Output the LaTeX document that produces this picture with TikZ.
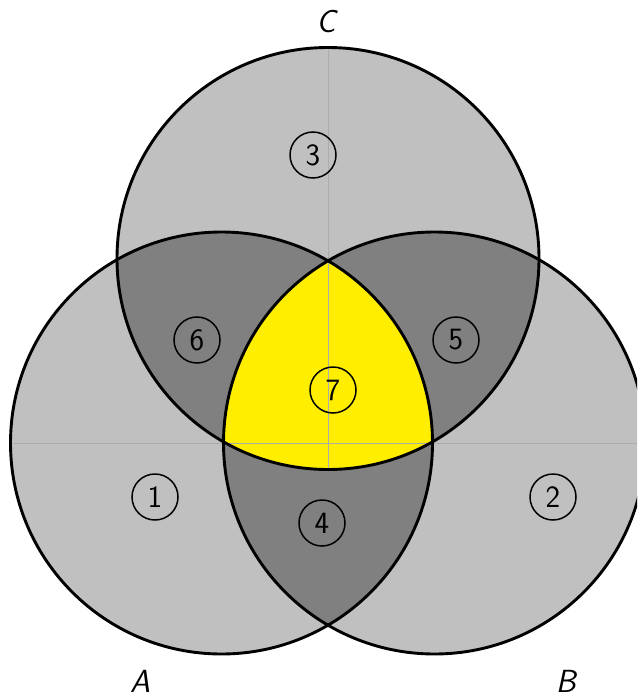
\documentclass[tikz,border=0pt]{standalone}
\definecolor{lightg}{RGB}{192,192,192}
\definecolor{darkg}{RGB}{128,128,128}
\definecolor{vyellow}{RGB}{255,238,0}
\definecolor{guideg}{RGB}{172,172,172}
\tikzset{
  setfill/.style={fill=lightg},
  outline/.style={draw=black,line width=2.9pt},
  guide/.style={draw=guideg,line width=0.8pt},
  num/.style={circle,draw=black,line width=1.5pt,minimum size=46pt,inner sep=0pt,
    font=\fontsize{31}{36}\selectfont\sffamily},
  lab/.style={font=\fontsize{32}{38}\selectfont\sffamily\itshape,inner sep=0pt}
}
\begin{document}
\begin{tikzpicture}[x=1pt,y=-1pt]
\clip (0,0) rectangle (637,698);
\coordinate (A) at (221.5,443);
\coordinate (B) at (434.5,443);
\coordinate (C) at (328,258.5);
\def\R{211pt}
% base fills
\fill[lightg] (A) circle[radius=\R];
\fill[lightg] (B) circle[radius=\R];
\fill[lightg] (C) circle[radius=\R];
% pairwise intersections
\begin{scope}
  \clip (A) circle[radius=\R];
  \fill[darkg] (B) circle[radius=\R];
  \fill[darkg] (C) circle[radius=\R];
\end{scope}
\begin{scope}
  \clip (B) circle[radius=\R];
  \fill[darkg] (C) circle[radius=\R];
\end{scope}
% triple intersection
\begin{scope}
  \clip (A) circle[radius=\R];
  \clip (B) circle[radius=\R];
  \fill[vyellow] (C) circle[radius=\R];
\end{scope}
% guide lines
\coordinate (hl) at (10.5,443);
\coordinate (hr) at (645.5,443);
\coordinate (vt) at (328,47.5);
\coordinate (vb) at (328,469.5);
\draw[guide] (hl) -- (hr);
\draw[guide] (vt) -- (vb);
% outlines
\draw[outline] (A) circle[radius=\R];
\draw[outline] (B) circle[radius=\R];
\draw[outline] (C) circle[radius=\R];
% region numbers
\node[num] (n1) at (155,497) {1};
\node[num] (n2) at (553,497) {2};
\node[num] (n3) at (313,155) {3};
\node[num] (n4) at (322,523) {4};
\node[num] (n5) at (456,340) {5};
\node[num] (n6) at (197,340) {6};
\node[num] (n7) at (333,390) {7};
% set labels
\node[lab] (la) at (140,681.5) {A};
\node[lab] (lb) at (566,681.5) {B};
\node[lab] (lc) at (326,22) {C};
\end{tikzpicture}
\end{document}
